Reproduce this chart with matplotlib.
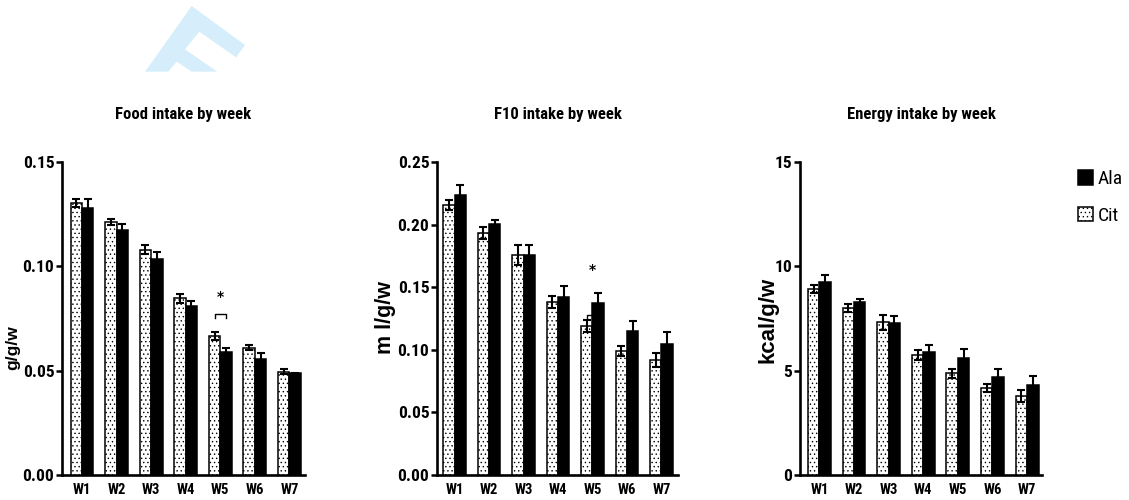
import matplotlib
matplotlib.use("Agg")
import matplotlib.pyplot as plt
from matplotlib import font_manager
from matplotlib.patches import Polygon
import numpy as np

# ---- data -------------------------------------------------------------
weeks = ["W1", "W2", "W3", "W4", "W5", "W6", "W7"]

food_cit = [0.1304, 0.1213, 0.1080, 0.0846, 0.0665, 0.0611, 0.0496]
food_cit_err = [0.0020, 0.0016, 0.0020, 0.0020, 0.0020, 0.0010, 0.0010]
food_ala = [0.1280, 0.1173, 0.1034, 0.0812, 0.0590, 0.0554, 0.0487]
food_ala_err = [0.0045, 0.0030, 0.0035, 0.0023, 0.0020, 0.0030, 0.0003]

f10_cit = [0.2160, 0.1934, 0.1755, 0.1383, 0.1191, 0.0990, 0.0918]
f10_cit_err = [0.0040, 0.0046, 0.0080, 0.0050, 0.0050, 0.0040, 0.0058]
f10_ala = [0.2240, 0.2003, 0.1760, 0.1423, 0.1375, 0.1150, 0.1045]
f10_ala_err = [0.0080, 0.0030, 0.0075, 0.0085, 0.0080, 0.0080, 0.0100]

energy_cit = [8.92, 8.00, 7.32, 5.75, 4.88, 4.16, 3.79]
energy_cit_err = [0.20, 0.20, 0.35, 0.25, 0.22, 0.18, 0.29]
energy_ala = [9.24, 8.28, 7.28, 5.89, 5.60, 4.72, 4.32]
energy_ala_err = [0.33, 0.16, 0.35, 0.35, 0.43, 0.36, 0.43]

titles = ["Food intake by week", "F10 intake by week", "Energy intake by week"]
ylabels = ["g/g/w", "m l/g/w", "kcal/g/w"]
yticks = [[0.00, 0.05, 0.10, 0.15], [0.00, 0.05, 0.10, 0.15, 0.20, 0.25], [0, 5, 10, 15]]
ytick_fmt = ["{:.2f}", "{:.2f}", "{:.0f}"]
series_labels = ["Ala", "Cit"]


# ---- fonts: first narrow family that ships a bold face ----------------
def pick_bold_family(preferred, default="DejaVu Sans"):
    weights = {}
    for f in font_manager.fontManager.ttflist:
        w = f.weight if isinstance(f.weight, int) else 400
        weights.setdefault(f.name, set()).add(w)
    for name in preferred:
        if any(w >= 600 for w in weights.get(name, ())):
            return name
    return default


NARROW_NAME = pick_bold_family(["Liberation Sans Narrow", "Arial Narrow",
                                "Roboto Condensed", "PT Sans Narrow",
                                "Asap Condensed", "Encode Sans Condensed",
                                "Saira SemiCondensed"])
NARROW = [NARROW_NAME, "DejaVu Sans"]
REGULAR = ["Liberation Sans", "DejaVu Sans"]

W, H = 1129, 500
plt.rcParams["hatch.linewidth"] = 0.5
plt.rcParams["hatch.color"] = "black"

fig = plt.figure(figsize=(W / 100, H / 100), dpi=100)
fig.patch.set_facecolor("white")


def px(x, y):
    return (x / W, 1 - y / H)


# faint logo mark in the top-left margin
logo = [(145, 71.7), (191.7, 6), (245, 45), (236, 57.3), (199.3, 31.7),
        (185, 49.3), (217.3, 71.7), (191.7, 71.7), (176.7, 61.7), (168.3, 71.7)]
fig.add_artist(Polygon([px(*p) for p in logo], closed=True,
                       transform=fig.transFigure, facecolor="#d6eefb",
                       edgecolor="none", zorder=0))

# axes boxes in pixels: (left, right, top, bottom)
boxes = [(62, 305, 162, 475), (437, 678, 162, 475), (800, 1042, 162, 475)]
xlims = [(-0.58, 6.45), (-0.51, 6.48), (-0.56, 6.43)]
ylab_pos = [(13, 348), (385, 318), (768, 320)]
ylab_size = [12.5, 15.5, 16]

panels = [
    (food_cit, food_cit_err, food_ala, food_ala_err),
    (f10_cit, f10_cit_err, f10_ala, f10_ala_err),
    (energy_cit, energy_cit_err, energy_ala, energy_ala_err),
]

x = np.arange(len(weeks))
bw = 0.33
axes = []
handles = None
for i, (cit, cit_e, ala, ala_e) in enumerate(panels):
    l, r, t, b = boxes[i]
    ax = fig.add_axes([l / W, 1 - b / H, (r - l) / W, (b - t) / H])
    axes.append(ax)
    cit_bars = ax.bar(x - bw / 2, cit, bw, facecolor="white", edgecolor="black",
                      linewidth=1.1, hatch="....", zorder=3)
    ax.errorbar(x - bw / 2, cit, yerr=cit_e, fmt="none", ecolor="black",
                elinewidth=1.5, capsize=3.2, capthick=1.5, zorder=4)
    ala_bars = ax.bar(x + bw / 2, ala, bw, facecolor="black", edgecolor="black",
                      linewidth=1.1, zorder=3)
    ax.errorbar(x + bw / 2, ala, yerr=ala_e, fmt="none", ecolor="black",
                elinewidth=1.5, capsize=3.2, capthick=1.5, zorder=2)
    if handles is None:
        handles = [ala_bars, cit_bars]

    ax.set_xlim(*xlims[i])
    ax.set_ylim(yticks[i][0], yticks[i][-1])
    ax.set_yticks(yticks[i])
    ax.set_yticklabels([ytick_fmt[i].format(v) for v in yticks[i]],
                       fontfamily=NARROW, fontweight="bold", fontsize=12.5)
    ax.set_xticks(x)
    ax.set_xticklabels(weeks, fontfamily=NARROW, fontweight="bold", fontsize=10.5)
    ax.tick_params(axis="x", length=0, pad=6)
    ax.tick_params(axis="y", length=4, width=1.8, pad=1.5)
    for s in ("top", "right"):
        ax.spines[s].set_visible(False)
    for s in ("left", "bottom"):
        ax.spines[s].set_linewidth(1.9)
    ax.set_title(titles[i], fontfamily=NARROW, fontweight="bold", fontsize=12,
                 pad=31)
    fig.text(*px(*ylab_pos[i]), ylabels[i], rotation=90, ha="center",
             va="center", fontfamily=REGULAR, fontweight="bold",
             fontsize=ylab_size[i])

# significance markers at week 5
ax = axes[0]
y_br = 0.0770
ax.plot([4 - bw / 2, 4 - bw / 2, 4 + bw / 2, 4 + bw / 2],
        [y_br - 0.0017, y_br, y_br, y_br - 0.0017], color="black", lw=1.0,
        zorder=5)
ax.text(4, 0.0855, "*", ha="center", va="center", fontsize=10,
        fontweight="bold")

ax = axes[1]
y_br = 0.1275
ax.plot([4 - bw / 2, 4 - bw / 2, 4 + bw / 2],
        [y_br - 0.003, y_br, y_br], color="black", lw=1.0, zorder=2)
ax.text(4, 0.1641, "*", ha="center", va="center", fontsize=10,
        fontweight="bold")

# legend to the right of the last panel
fig.legend(handles, series_labels, loc="upper left",
           bbox_to_anchor=px(1078, 170), frameon=False,
           prop={"family": NARROW, "size": 14},
           handlelength=0.78, handleheight=0.78, handletextpad=0.25,
           labelspacing=0.95, borderpad=0, borderaxespad=0)

fig.savefig("out.png", dpi=100, facecolor="white")
